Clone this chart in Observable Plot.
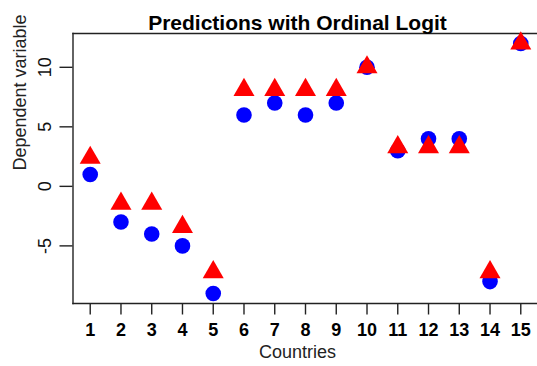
<!DOCTYPE html>
<html>
<head>
<meta charset="utf-8">
<script src="https://cdn.jsdelivr.net/npm/d3@7"></script>
<script src="https://cdn.jsdelivr.net/npm/@observablehq/plot@0.6"></script>
<style>
  html, body { margin: 0; padding: 0; background: #fff; }
  svg { font-family: "Liberation Sans", Arial, sans-serif; }
</style>
</head>
<body>
<div id="chart"></div>
<script>
const countries = [1, 2, 3, 4, 5, 6, 7, 8, 9, 10, 11, 12, 13, 14, 15];
const observed = [1, -3, -4, -5, -9, 6, 7, 6, 7, 10, 3, 4, 4, -8, 12];
const predicted = [2.4, -1.45, -1.45, -3.4, -7.2, 8.1, 8.1, 8.1, 8.1, 10, 3.3, 3.3, 3.3, -7.2, 12];
const xTicks = [1, 2, 3, 4, 5, 6, 7, 8, 9, 10, 11, 12, 13, 14, 15];
const yTicks = [-5, 0, 5, 10];
const titleText = "Predictions with Ordinal Logit";
const xLabel = "Countries";
const yLabel = "Dependent variable";

const obsData = countries.map((c, i) => ({country: c, value: observed[i]}));
const predData = countries.map((c, i) => ({country: c, value: predicted[i]}));

// R-style 4% padding on the data range
const xMin = d3.min(countries), xMax = d3.max(countries);
const allY = observed.concat(predicted);
const yMin = d3.min(allY), yMax = d3.max(allY);
const xPad = (xMax - xMin) * 0.04, yPad = (yMax - yMin) * 0.04;

const plot = Plot.plot({
  width: 537,
  height: 366,
  marginLeft: 72.5,
  marginRight: -0.5,
  marginTop: 33,
  marginBottom: 63,
  x: {domain: [xMin - xPad, xMax + xPad]},
  y: {domain: [yMin - yPad, yMax + yPad]},
  marks: [
    Plot.axisX({ticks: xTicks, tickSize: 11.5, tickPadding: 8, fontSize: 18, fontWeight: "bold", label: null, stroke: "#222", strokeWidth: 1.4}),
    Plot.axisY({ticks: yTicks, tickSize: 13, tickFormat: () => "", label: null, stroke: "#222", strokeWidth: 1.4}),
    Plot.text(yTicks, {frameAnchor: "left", y: d => d, text: d => String(d), rotate: -90, dx: -28, textAnchor: "middle", fontSize: 18, fill: "#111"}),
    Plot.frame({anchor: "left", stroke: "#222", strokeWidth: 1.4}),
    Plot.frame({anchor: "top", stroke: "#222", strokeWidth: 1.4}),
    Plot.frame({anchor: "bottom", stroke: "#222", strokeWidth: 1.4}),
    Plot.dot(obsData, {x: "country", y: "value", r: 7.8, fill: "#0000FF", stroke: "none"}),
    Plot.dot(predData, {x: "country", y: "value", symbol: "triangle", r: 7.8, fill: "#FF0000", stroke: "none"}),
    Plot.text([titleText], {frameAnchor: "top", dx: -8, dy: -18, fontSize: 21, fontWeight: "bold", fill: "#000"}),
    Plot.text([xLabel], {frameAnchor: "bottom", dx: -8, dy: 54, fontSize: 18, fill: "#222"}),
    Plot.text([yLabel], {frameAnchor: "left", rotate: -90, dx: -52.5, dy: 2, fontSize: 18, fill: "#222"})
  ]
});
document.getElementById("chart").appendChild(plot);
</script>
</body>
</html>
